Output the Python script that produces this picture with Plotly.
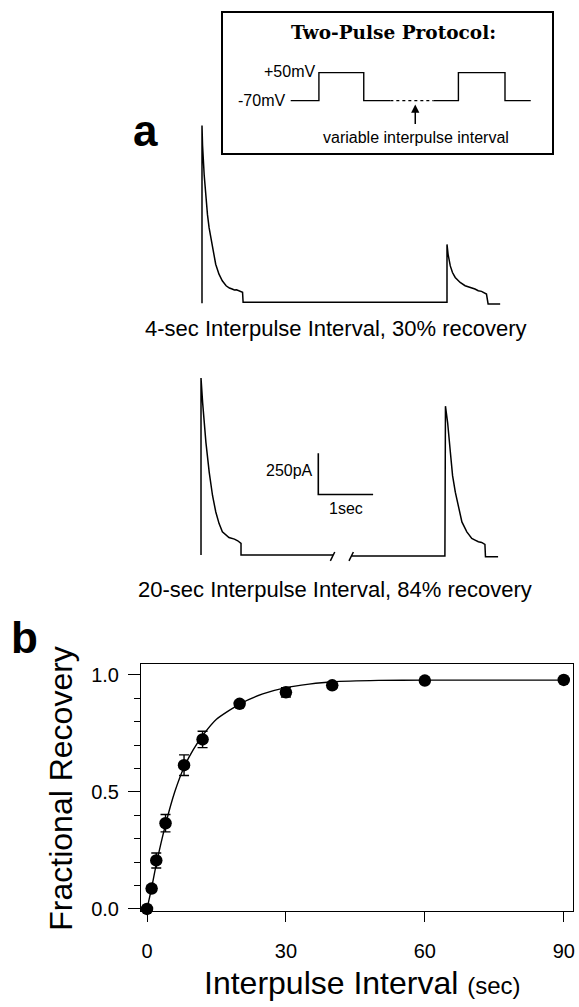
import plotly.graph_objects as go

W, H = 579, 1007

# ---------------- data ----------------
# Panel a, upper record: 4-sec interpulse interval (time in s, current in pA)
top_t = [0, 0, 0.01, 0.04, 0.07, 0.10, 0.13, 0.19, 0.25, 0.31, 0.37, 0.44, 0.50, 0.55, 0.59,
         0.63, 0.68, 0.71, 0.74, 0.75, 4.47, 4.47, 4.49, 4.53, 4.57, 4.62, 4.71, 4.80, 4.86,
         4.92, 4.98, 5.04, 5.10, 5.19, 5.22, 5.44]
top_I = [-6, 1070, 950, 770, 630, 530, 450, 330, 230, 170, 130, 100, 86, 80, 74,
         76, 70, 68, 60, 0, 0, 350, 290, 220, 180, 150, 120, 100, 94,
         86, 80, 70, 66, 50, -10, -10]

# Panel a, lower record: 20-sec interpulse interval (axis break in the baseline)
bot_t = [0, 0, 0.03, 0.06, 0.09, 0.15, 0.21, 0.27, 0.33, 0.39, 0.45, 0.51, 0.61, 0.67, 0.73,
         0.73, 2.41, None, 2.75, 4.45, 4.46, 4.50, 4.55, 4.59, 4.64, 4.70, 4.76, 4.85, 4.94,
         5.00, 5.06, 5.12, 5.18, 5.19, 5.42]
bot_I = [0, 1070, 920, 800, 680, 500, 360, 260, 190, 140, 120, 106, 96, 86, 70,
         0, 0, None, -6, -6, 900, 800, 620, 480, 380, 280, 200, 140, 100,
         90, 80, 76, 64, -10, -10]
break_t = [2.36, 2.44, None, 2.70, 2.78]
break_I = [-36, 18, None, -36, 18]

scale_bar_sec = 1.0
scale_bar_pA = 250

# Inset: two-pulse voltage protocol (schematic time, mV)
proto1_t = [0, 0.515, 0.515, 1.333, 1.333, 1.818]
proto1_V = [-70, -70, 50, 50, -70, -70]
gap_t = [1.818, 2.606]
gap_V = [-70, -70]
proto2_t = [2.606, 3.06, 3.06, 3.91, 3.91, 4.38]
proto2_V = [-70, -70, 50, 50, -70, -70]

# Panel b: fractional recovery vs interpulse interval
interval = [0, 1, 2, 4, 8, 12, 20, 30, 40, 60, 90]
recovery = [0.0, 0.087, 0.207, 0.366, 0.614, 0.724, 0.876, 0.925, 0.955, 0.975, 0.978]
sem = [0, 0.012, 0.032, 0.037, 0.044, 0.035, 0.012, 0.02, 0.012, 0.008, 0.008]
fit_t = [0, 1, 2, 4, 6, 8, 10, 12, 15, 20, 25, 30, 35, 40, 50, 60, 75, 90]
fit_y = [0, 0.09, 0.19, 0.36, 0.50, 0.605, 0.68, 0.74, 0.81, 0.875, 0.918, 0.945, 0.96,
         0.97, 0.976, 0.977, 0.977, 0.977]

x_ticks = [0, 30, 60, 90]

# ---------------- layout helpers (pixel geometry) ----------------
def fx(px):
    return px / W


def fy(py):
    return 1 - py / H


def xrange_for(p0, p1, anchor_px, px_per_unit):
    return [(p0 - anchor_px) / px_per_unit, (p1 - anchor_px) / px_per_unit]


def yrange_for(p_bottom, p_top, anchor_px, anchor_val, px_per_unit):
    return [anchor_val + (anchor_px - p_bottom) / px_per_unit,
            anchor_val + (anchor_px - p_top) / px_per_unit]


PX_PER_S = 55.0
PX_PER_PA = 41.7 / 250.0
FONT = "Liberation Sans, Arial, Helvetica, sans-serif"
LW = 1.5

fig = go.Figure()

# panel a traces
fig.add_trace(go.Scatter(x=top_t, y=top_I, mode="lines", line=dict(color="black", width=LW),
                         xaxis="x2", yaxis="y2", hoverinfo="skip"))
fig.add_trace(go.Scatter(x=bot_t, y=bot_I, mode="lines", line=dict(color="black", width=LW),
                         xaxis="x3", yaxis="y3", hoverinfo="skip", connectgaps=False))
fig.add_trace(go.Scatter(x=break_t, y=break_I, mode="lines", line=dict(color="black", width=LW),
                         xaxis="x3", yaxis="y3", hoverinfo="skip", connectgaps=False))
# scale bar
sb_t0, sb_I0 = 2.14, 366
fig.add_trace(go.Scatter(x=[sb_t0, sb_t0, sb_t0 + scale_bar_sec],
                         y=[sb_I0 + scale_bar_pA, sb_I0, sb_I0],
                         mode="lines", line=dict(color="black", width=1.6),
                         xaxis="x3", yaxis="y3", hoverinfo="skip"))

# inset protocol
for tt, vv, dash in [(proto1_t, proto1_V, "solid"), (gap_t, gap_V, "dot"), (proto2_t, proto2_V, "solid")]:
    fig.add_trace(go.Scatter(x=tt, y=vv, mode="lines", line=dict(color="black", width=1.4, dash=dash),
                             xaxis="x4", yaxis="y4", hoverinfo="skip"))

# panel b
fig.add_trace(go.Scatter(x=fit_t, y=fit_y, mode="lines", line=dict(color="black", width=1.4, shape="spline", smoothing=0.6),
                         xaxis="x", yaxis="y", hoverinfo="skip"))
fig.add_trace(go.Scatter(x=interval, y=recovery, mode="markers",
                         marker=dict(color="black", size=12.5),
                         error_y=dict(type="data", array=sem, color="black", thickness=1.4, width=5),
                         xaxis="x", yaxis="y", cliponaxis=False))

hidden = dict(visible=False, showgrid=False, zeroline=False)

# geometry
top_dom_x = (180, 579)
top_dom_y = (318, 110)
bot_dom_x = (180, 579)
bot_dom_y = (578, 360)
ins_x = (224, 554)
ins_y = (154.5, 12.7)
b_x = (141.7, 575)
b_y = (919, 669.5)

fig.update_layout(
    width=W, height=H, margin=dict(l=0, r=0, t=0, b=0),
    paper_bgcolor="white", plot_bgcolor="rgba(0,0,0,0)", showlegend=False,
    font=dict(family=FONT, color="black"),
    xaxis2=dict(hidden, domain=[fx(top_dom_x[0]), fx(top_dom_x[1])],
                range=xrange_for(top_dom_x[0], top_dom_x[1], 202.7, PX_PER_S), anchor="y2"),
    yaxis2=dict(hidden, domain=[fy(top_dom_y[0]), fy(top_dom_y[1])],
                range=yrange_for(top_dom_y[0], top_dom_y[1], 305, 0, PX_PER_PA), anchor="x2"),
    xaxis3=dict(hidden, domain=[fx(bot_dom_x[0]), fx(bot_dom_x[1])],
                range=xrange_for(bot_dom_x[0], bot_dom_x[1], 201.7, PX_PER_S), anchor="y3"),
    yaxis3=dict(hidden, domain=[fy(bot_dom_y[0]), fy(bot_dom_y[1])],
                range=yrange_for(bot_dom_y[0], bot_dom_y[1], 560, 0, PX_PER_PA), anchor="x3"),
    xaxis4=dict(domain=[fx(ins_x[0]), fx(ins_x[1])],
                range=xrange_for(ins_x[0], ins_x[1], 291.7, PX_PER_S), anchor="y4",
                showline=True, mirror=True, linecolor="black", linewidth=2,
                showticklabels=False, ticks="", showgrid=False, zeroline=False),
    yaxis4=dict(domain=[fy(ins_y[0]), fy(ins_y[1])],
                range=yrange_for(ins_y[0], ins_y[1], 101.5, -70, 28.2 / 120), anchor="x4",
                showline=True, mirror=True, linecolor="black", linewidth=2,
                showticklabels=False, ticks="", showgrid=False, zeroline=False),
    xaxis=dict(domain=[fx(b_x[0]), fx(b_x[1])], range=[-1.25, 92.0], anchor="y",
               tickmode="array", tickvals=x_ticks, ticks="outside", ticklen=10, tickwidth=1.4,
               tickcolor="black", showline=True, mirror=True, linecolor="black", linewidth=1.4,
               showgrid=False, zeroline=False, tickfont=dict(size=20, family=FONT, color="black"),
               ticklabelstandoff=12),
    yaxis=dict(domain=[fy(b_y[0]), fy(b_y[1])], range=[-0.008, 1.048], anchor="x",
               tick0=0, dtick=0.5, tickformat=".1f", ticks="outside", ticklen=12, tickwidth=1.4,
               tickcolor="black", showline=True, mirror=True, linecolor="black", linewidth=1.4,
               showgrid=False, zeroline=False, tickfont=dict(size=20, family=FONT, color="black"),
               minor=dict(tick0=0, dtick=0.1, ticks="outside", ticklen=6, tickwidth=1.2, tickcolor="black"),
               ticklabelstandoff=5),
)

ann = []


def txt(text, px, py, size, xanchor="center", yanchor="middle", angle=0, family=FONT):
    ann.append(dict(text=text, x=fx(px), y=fy(py), xref="paper", yref="paper", showarrow=False,
                    xanchor=xanchor, yanchor=yanchor, textangle=angle,
                    font=dict(size=size, family=family, color="black")))


txt("<b>Two-Pulse Protocol:</b>", 395, 33, 18.5, family="DejaVu Serif, serif")
txt("variable interpulse interval", 417.5, 138.5, 16)
ann.append(dict(text="+50mV", x=0.5, y=50, xref="x4", yref="y4", xanchor="right", yanchor="middle",
                showarrow=False, xshift=-1, yshift=1, font=dict(size=16, family=FONT, color="black")))
ann.append(dict(text="-70mV", x=0, y=-70, xref="x4", yref="y4", xanchor="right", yanchor="middle",
                showarrow=False, xshift=-4, font=dict(size=16, family=FONT, color="black")))
# arrow pointing at the variable interval
ann.append(dict(text="", x=fx(416.7), y=fy(105.5), xref="paper", yref="paper", showarrow=True,
                ax=0, ay=21, arrowhead=2, arrowsize=1.1, arrowwidth=1.5, arrowcolor="black", standoff=0))
txt("<b>a</b>", 146.5, 132, 44)
txt("<b>b</b>", 25, 643, 44)
txt("4-sec Interpulse Interval, 30% recovery", 337.5, 331.5, 22)
txt("20-sec Interpulse Interval, 84% recovery", 336, 595, 22)
ann.append(dict(text="250pA", x=sb_t0, y=sb_I0 + 0.57 * scale_bar_pA, xref="x3", yref="y3",
                xanchor="right", yanchor="middle", showarrow=False, xshift=-3,
                font=dict(size=16, family=FONT, color="black")))
ann.append(dict(text="1sec", x=sb_t0 + 0.5 * scale_bar_sec, y=sb_I0, xref="x3", yref="y3",
                xanchor="center", yanchor="top", showarrow=False, yshift=-4,
                font=dict(size=16, family=FONT, color="black")))
txt("Fractional Recovery", 61, 795, 32, angle=-90)
txt("Interpulse Interval <span style='font-size:24px'>(sec)</span>", 364, 992, 32)

fig.update_layout(annotations=ann)
fig.write_html("out.html")
